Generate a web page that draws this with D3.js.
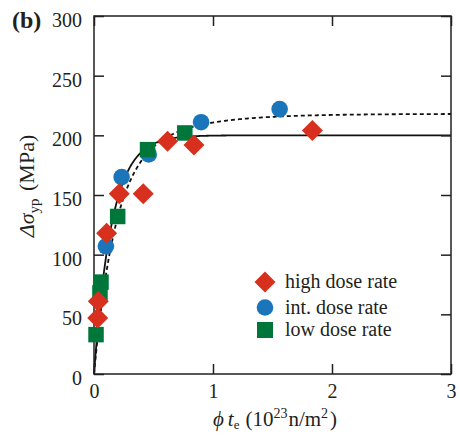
<!DOCTYPE html>
<html>
<head>
<meta charset="utf-8">
<script src="https://cdn.jsdelivr.net/npm/d3@7"></script>
<style>
  html, body { margin: 0; padding: 0; background: #fff; }
</style>
</head>
<body>
<svg id="chart" width="460" height="436"></svg>
<script>
// Fluence (10^23 n/m^2) and yield-point increase (MPa) for each dose rate
const highX = [0.031, 0.036, 0.106, 0.212, 0.414, 0.618, 0.84, 1.835];
const highY = [47, 61, 118, 151, 151, 195, 192, 204];
const intX  = [0.10, 0.232, 0.46, 0.90, 1.56];
const intY  = [107, 165, 184, 211, 222];
const lowX  = [0.017, 0.050, 0.059, 0.199, 0.45, 0.763];
const lowY  = [33, 68, 77, 132, 188, 202];

// Saturation fits: sat - sum(amp_i * exp(-x / tau_i))
const fitSolid  = { sat: 200, terms: [{ amp: 200, tau: 0.15 }] };
const fitDashed = { sat: 218, terms: [{ amp: 168, tau: 0.173 }, { amp: 50, tau: 0.5 }] };

const xTicks = [0, 1, 2, 3];
const yTicks = [0, 50, 100, 150, 200, 250, 300];

const legendLabels = ["high dose rate", "int. dose rate", "low dose rate"];
const colors = { high: "#d7301f", int: "#1b75bb", low: "#00773a" };

const serif = "'Liberation Serif', 'Times New Roman', Times, serif";
const ink = "#231f20";

const svg = d3.select("#chart").attr("font-family", serif);
const plotL = 94, plotR = 451, plotT = 16, plotB = 374;

const x = d3.scaleLinear().domain([0, 3]).range([plotL, plotR]);
const y = d3.scaleLinear().domain([0, 300]).range([plotB, plotT]);

// Fit curves
const fitPts = (p) => d3.range(0, 3.0001, 0.005)
  .map(v => [v, p.sat - d3.sum(p.terms, t => t.amp * Math.exp(-v / t.tau))]);
const line = d3.line().x(d => x(d[0])).y(d => y(d[1]));

svg.append("path").datum(fitPts(fitDashed)).attr("d", line)
  .attr("fill", "none").attr("stroke", "#111").attr("stroke-width", 1.8)
  .attr("stroke-dasharray", "4,3");
svg.append("path").datum(fitPts(fitSolid)).attr("d", line)
  .attr("fill", "none").attr("stroke", "#111").attr("stroke-width", 1.8);

// Axes with inward ticks on all four sides
const tickLen = 10;
const axB = svg.append("g").attr("transform", `translate(0,${plotB})`)
  .call(d3.axisBottom(x).tickValues(xTicks).tickSize(-tickLen).tickPadding(12).tickFormat(d3.format("d")));
const axT = svg.append("g").attr("transform", `translate(0,${plotT})`)
  .call(d3.axisTop(x).tickValues(xTicks).tickSize(-tickLen).tickFormat(""));
const axL = svg.append("g").attr("transform", `translate(${plotL},0)`)
  .call(d3.axisLeft(y).tickValues(yTicks).tickSize(-tickLen).tickPadding(12).tickFormat(d3.format("d")));
const axR = svg.append("g").attr("transform", `translate(${plotR},0)`)
  .call(d3.axisRight(y).tickValues(yTicks).tickSize(-tickLen).tickFormat(""));

[axB, axT, axL, axR].forEach(g => {
  g.attr("font-family", serif).attr("font-size", 20);
  g.select(".domain").remove();
  g.selectAll(".tick line").attr("stroke", ink).attr("stroke-width", 1.5);
  g.selectAll("text").attr("fill", ink);
});
axL.selectAll("text").attr("x", -(plotL - 82)).attr("dy", "0.52em");
axB.selectAll("text").attr("y", 10).attr("dy", "0.71em");

// Frame
svg.append("rect").attr("x", plotL).attr("y", plotT)
  .attr("width", plotR - plotL).attr("height", plotB - plotT)
  .attr("fill", "none").attr("stroke", ink).attr("stroke-width", 1.5);

// Markers
const circleR = 8.3, squareS = 15.5, diamondR = 10.5;
const diamondPath = (cx, cy) => `M${cx},${cy - diamondR}L${cx + diamondR},${cy}L${cx},${cy + diamondR}L${cx - diamondR},${cy}Z`;

svg.append("g").selectAll("circle").data(d3.zip(intX, intY)).join("circle")
  .attr("cx", d => x(d[0])).attr("cy", d => y(d[1])).attr("r", circleR)
  .attr("fill", colors.int);
svg.append("g").selectAll("rect").data(d3.zip(lowX, lowY)).join("rect")
  .attr("x", d => x(d[0]) - squareS / 2).attr("y", d => y(d[1]) - squareS / 2)
  .attr("width", squareS).attr("height", squareS).attr("fill", colors.low);
svg.append("g").selectAll("path").data(d3.zip(highX, highY)).join("path")
  .attr("d", d => diamondPath(x(d[0]), y(d[1]))).attr("fill", colors.high);

// Legend
const legX = 265, legTextX = 285, legY = [282, 307.5, 330];
svg.append("path").attr("d", diamondPath(legX, legY[0])).attr("fill", colors.high);
svg.append("circle").attr("cx", legX).attr("cy", legY[1]).attr("r", circleR).attr("fill", colors.int);
svg.append("rect").attr("x", legX - 8).attr("y", legY[2] - 8)
  .attr("width", 16).attr("height", 16).attr("fill", colors.low);
legendLabels.forEach((t, i) => {
  svg.append("text").attr("x", legTextX).attr("y", legY[i]).attr("dy", "0.31em")
    .attr("font-size", 20).attr("fill", ink).text(t);
});

// Panel label
svg.append("text").attr("x", 12).attr("y", 28).attr("font-size", 24)
  .attr("font-weight", "bold").attr("fill", ink).text("(b)");

// X axis title: ϕ t_e (10^23 n/m^2)
const xt = svg.append("text").attr("x", 275).attr("y", 426)
  .attr("text-anchor", "middle").attr("font-size", 21).attr("fill", ink);
xt.append("tspan").attr("font-style", "italic").text("ϕ");
xt.append("tspan").attr("font-style", "italic").attr("dx", 4).text("t");
xt.append("tspan").attr("font-size", 13).attr("dy", 3).text("e");
xt.append("tspan").attr("dy", -3).attr("dx", 6).text("(10");
xt.append("tspan").attr("font-size", 14).attr("dy", -8).text("23");
xt.append("tspan").attr("dy", 8).attr("dx", 1).text("n/m");
xt.append("tspan").attr("font-size", 14).attr("dy", -8).text("2");
xt.append("tspan").attr("dy", 8).attr("dx", 2).text(")");

// Y axis title: Δσ_yp (MPa)
const yt = svg.append("text").attr("transform", "translate(34,186) rotate(-90)")
  .attr("text-anchor", "middle").attr("font-size", 22).attr("fill", ink);
yt.append("tspan").attr("font-style", "italic").text("Δσ");
yt.append("tspan").attr("font-size", 15).attr("dy", 5).text("yp");
yt.append("tspan").attr("dy", -5).attr("dx", 2).text(" (MPa)");
</script>
</body>
</html>
